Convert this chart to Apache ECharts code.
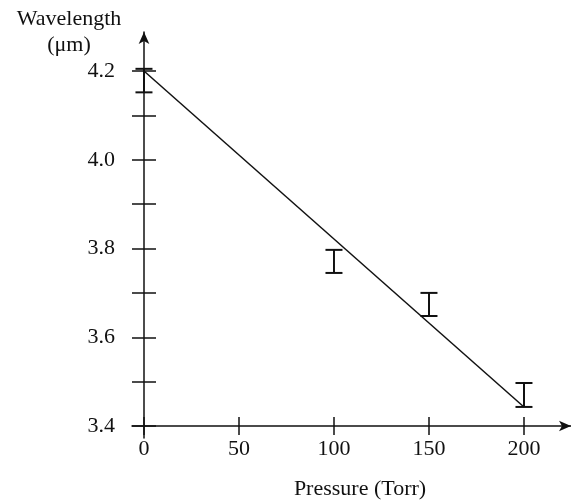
<!DOCTYPE html>
<html>
<head>
<meta charset="utf-8">
<script src="https://cdn.jsdelivr.net/npm/echarts@6/dist/echarts.min.js"></script>
<style>html,body{margin:0;padding:0;background:#fff;}#c{width:571px;height:502px;}</style>
</head>
<body>
<div id="c"></div>
<script>
// ---- data ----
const pressure = [0, 100, 150, 200];
const errLow  = [4.152, 3.745, 3.648, 3.443];
const errHigh = [4.205, 3.797, 3.700, 3.497];
const fitX = [0, 200];
const fitY = [4.2, 3.443];
const xTickValues = [0, 50, 100, 150, 200];
const yTickValues = [3.4, 3.5, 3.6, 3.7, 3.8, 3.9, 4.0, 4.1, 4.2];
const yLabelValues = [3.4, 3.6, 3.8, 4.0, 4.2];
const xName = 'Pressure (Torr)';
const yName = 'Wavelength\n(μm)';

// ---- chart ----
const FONT = 'Liberation Serif';
const INK = '#111';
const chart = echarts.init(document.getElementById('c'), null, {renderer: 'canvas'});
const X_MIN = -6.3, X_MAX = 224.75, Y_MIN = 3.373, Y_MAX = 4.288;

const errData = pressure.map((p, i) => [p, errLow[i], errHigh[i]]);
const fitData = fitX.map((x, i) => [x, fitY[i]]);

function xAxisCfg(main) {
  return {
    type: 'value', position: 'bottom', min: X_MIN, max: X_MAX, offset: -12,
    splitLine: {show: false},
    axisLine: main ? {show: true, symbol: ['none', 'arrow'], symbolSize: [8, 12], lineStyle: {color: INK, width: 1.5}} : {show: false},
    axisTick: {show: true, inside: !main, length: 9, customValues: xTickValues, lineStyle: {color: INK, width: 1.5}},
    axisLabel: main ? {show: true, customValues: xTickValues, margin: 12, color: INK, fontFamily: FONT, fontSize: 22} : {show: false},
    name: main ? xName : '', nameLocation: 'middle', nameGap: 52,
    nameTextStyle: {color: INK, fontFamily: FONT, fontSize: 22, padding: [0, 0, 0, 17]}
  };
}
function yAxisCfg(main) {
  return {
    type: 'value', position: 'left', min: Y_MIN, max: Y_MAX, offset: -12,
    splitLine: {show: false},
    axisLine: main ? {show: true, symbol: ['none', 'arrow'], symbolSize: [8, 12], lineStyle: {color: INK, width: 1.5}} : {show: false},
    axisTick: {show: true, inside: !main, length: 12, customValues: yTickValues, lineStyle: {color: INK, width: 1.5}},
    axisLabel: main ? {show: true, customValues: yLabelValues, margin: 29, color: INK, fontFamily: FONT, fontSize: 22,
      formatter: v => Number(v).toFixed(1)} : {show: false},
    name: main ? yName : '', nameLocation: 'end', nameGap: 0,
    nameTextStyle: {color: INK, fontFamily: FONT, fontSize: 22, lineHeight: 26, align: 'center', verticalAlign: 'middle', padding: [0, 150, 0, 0]}
  };
}

chart.setOption({
  animation: false,
  backgroundColor: '#fff',
  grid: {left: 132, right: 0, top: 32, bottom: 64, containLabel: false, outerBoundsMode: 'none'},
  xAxis: [xAxisCfg(true), xAxisCfg(false)],
  yAxis: [yAxisCfg(true), yAxisCfg(false)],
  series: [
    {
      type: 'line', xAxisIndex: 0, yAxisIndex: 0, data: fitData,
      symbol: 'none', lineStyle: {color: INK, width: 1.5}, silent: true
    },
    {
      type: 'custom', xAxisIndex: 0, yAxisIndex: 0, data: errData, clip: false,
      renderItem: function (params, api) {
        const x = api.value(0), lo = api.value(1), hi = api.value(2);
        const a = api.coord([x, lo]), b = api.coord([x, hi]);
        const hw = 8.5;
        const st = {stroke: INK, lineWidth: 2};
        return {type: 'group', children: [
          {type: 'line', shape: {x1: a[0], y1: a[1], x2: b[0], y2: b[1]}, style: st},
          {type: 'line', shape: {x1: a[0] - hw, y1: a[1], x2: a[0] + hw, y2: a[1]}, style: st},
          {type: 'line', shape: {x1: b[0] - hw, y1: b[1], x2: b[0] + hw, y2: b[1]}, style: st}
        ]};
      }
    }
  ]
});
</script>
</body>
</html>
